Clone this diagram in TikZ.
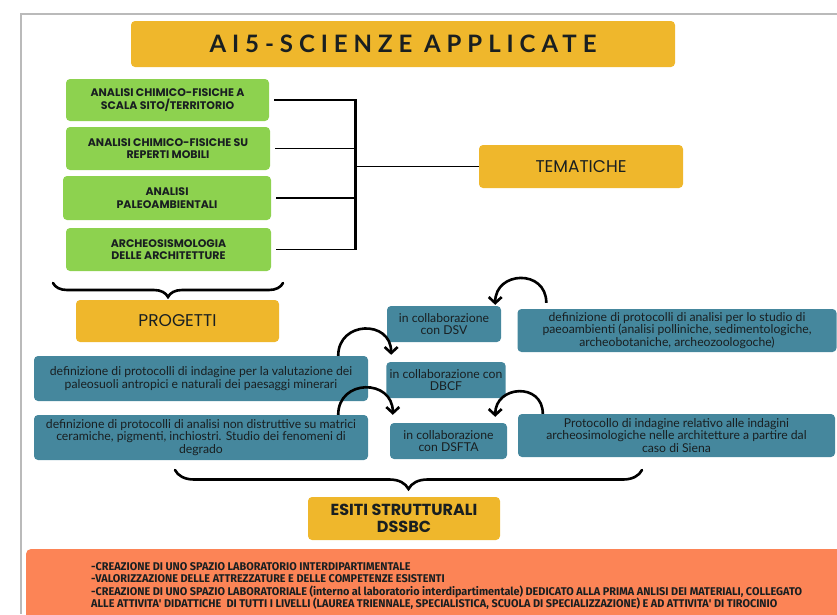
\documentclass[tikz,border=0pt]{standalone}
\usepackage{fontspec}
\usepackage{xcolor}
\usetikzlibrary{arrows.meta,decorations.pathreplacing}
\setmainfont{Lato}
\newfontfamily\capsfont{Poppins}
\newfontfamily\titlefont[LetterSpace=24.7]{Lato}
\newfontfamily\narrowfont[FakeStretch=0.97]{Fira Sans}
\definecolor{mustard}{rgb}{0.937, 0.718, 0.173}
\definecolor{leaf green}{rgb}{0.553, 0.824, 0.310}
\definecolor{petrol}{rgb}{0.271, 0.529, 0.616}
\definecolor{salmon}{rgb}{0.988, 0.518, 0.337}
\definecolor{frame gray}{rgb}{0.73, 0.73, 0.73}
\definecolor{ink}{rgb}{0.1, 0.12, 0.13}

\begin{document}
\begin{tikzpicture}[x=1pt, y=-1pt,
		yellowbox/.style={fill=mustard, rounded corners=4pt, align=center, text=ink,
			font=\capsfont\fontsize{17}{19}\selectfont},
		greenbox/.style={fill=leaf green, rounded corners=4pt, align=center, text=ink,
			font=\capsfont\bfseries\fontsize{11}{12.7}\selectfont},
		bluebox/.style={fill=petrol, rounded corners=4pt, align=center, text=ink,
			font=\fontsize{12.2}{12.5}\selectfont},
		joint/.style={line width=1.5pt},
		bend arrow/.style={line width=2.6pt, looseness=1.7,
			-{Straight Barb[length=6pt, width=13pt, line width=2.6pt]}},
		curly/.style={line width=2.6pt, line cap=round, decorate,
			decoration={brace, mirror, amplitude=#1}}]
		\useasboundingbox (0, 0) rectangle (837, 614);
		% outline
		\draw[frame gray, line width=1.3pt] (21, 614) |- (837, 14);
		% title
		\node (title) [yellowbox, minimum width=544, minimum height=46,
			font=\titlefont\bfseries\fontsize{24}{28}\selectfont] at (403, 44) {AI5-SCIENZE APPLICATE};
		% tematiche
		\node (sito) [greenbox, minimum width=203, minimum height=42] at (167.5, 100)
			{ANALISI CHIMICO-FISICHE A\\SCALA SITO/TERRITORIO};
		\node (reperti) [greenbox, minimum width=204, minimum height=43] at (168, 148.5)
			{ANALISI CHIMICO-FISICHE SU\\REPERTI MOBILI};
		\node (paleo) [greenbox, minimum width=208, minimum height=44] at (167, 198)
			{ANALISI\\PALEOAMBIENTALI};
		\node (sismo) [greenbox, minimum width=205, minimum height=43] at (168.5, 249.5)
			{ARCHEOSISMOLOGIA\\DELLE ARCHITETTURE};
		\node (tematiche) [yellowbox, minimum width=204, minimum height=43] at (581, 166.5) {TEMATICHE};
		\coordinate (spine) at (355, 0);
		\foreach \g in {sito, reperti, paleo, sismo}
			\draw[joint] ([xshift=5pt]\g.east) -- (\g.east -| spine);
		\draw[line width=3pt] ([yshift=0.75pt]sito.east -| spine) -- ([yshift=-0.75pt]sismo.east -| spine);
		\draw[joint] (spine |- tematiche.west) -- (tematiche.west);
		% progetti
		\draw[curly=14pt] (53, 283) -- (283, 283);
		\node (progetti) [yellowbox, minimum width=203, minimum height=42] at (177.5, 321) {PROGETTI};
		\node (dsv) [bluebox, minimum width=114, minimum height=36] at (444, 324)
			{in collaborazione\\con DSV};
		\node (studio) [bluebox, minimum width=319, minimum height=43] at (677, 330.5)
			{definizione di protocolli di analisi per lo studio di\\paeoambienti (analisi polliniche, sedimentologiche,\\archeobotaniche, archeozoologoche)};
		\node (dbcf) [bluebox, minimum width=116, minimum height=36] at (446, 380)
			{in collaborazione con\\DBCF};
		\node (paleosuoli) [bluebox, minimum width=334, minimum height=45] at (201, 378.5)
			{definizione di protocolli di indagine per la valutazione dei\\paleosuoli antropici e naturali dei paesaggi minerari};
		\node (ceramiche) [bluebox, minimum width=334, minimum height=45] at (201, 437.5)
			{definizione di protocolli di analisi non distruttive su matrici\\ceramiche, pigmenti, inchiostri. Studio dei fenomeni di\\degrado};
		\node (dsfta) [bluebox, minimum width=117, minimum height=36] at (448.5, 441)
			{in collaborazione\\con DSFTA};
		\node (siena) [bluebox, minimum width=317, minimum height=43] at (676.5, 435.5)
			{Protocollo di indagine relativo alle indagini\\archeosimologiche nelle architetture a partire dal\\caso di Siena};
		% arrows
		\draw[bend arrow] ([xshift=29pt, yshift=6pt]studio.north west) to[out=90, in=90] ([xshift=-6pt, yshift=1pt]dsv.north east);
		\draw[bend arrow] ([xshift=-30pt]paleosuoli.north east) to[out=90, in=90] ([xshift=5pt, yshift=7pt]dbcf.north west);
		\draw[bend arrow] ([xshift=-30pt]ceramiche.north east) to[out=90, in=90] ([xshift=3pt, yshift=8pt]dsfta.north west);
		\draw[bend arrow] ([xshift=25pt]siena.north west) to[out=90, in=90] ([xshift=-12pt, yshift=6pt]dsfta.north east);
		% esiti
		\draw[curly=19pt] (175, 470) -- (642, 470);
		\node (esiti) [yellowbox, minimum width=192, minimum height=43,
			font=\capsfont\bfseries\fontsize{16}{17}\selectfont] at (404, 518.5)
			{ESITI STRUTTURALI\\DSSBC};
		\fill[salmon, rounded corners=5pt] (26, 549) rectangle (860, 640);
		\node (esiti list) [anchor=north west, align=left, inner sep=0, text=ink,
			font=\narrowfont\bfseries\fontsize{11.2}{12.6}\selectfont] at (91, 562)
			{-CREAZIONE DI UNO SPAZIO LABORATORIO INTERDIPARTIMENTALE\\
			-VALORIZZAZIONE DELLE ATTREZZATURE E DELLE COMPETENZE ESISTENTI\\
			-CREAZIONE DI UNO SPAZIO LABORATORIALE (interno al laboratorio interdipartimentale) DEDICATO ALLA PRIMA ANLISI DEI MATERIALI, COLLEGATO\\
			ALLE ATTIVITA\textquotesingle{} DIDATTICHE~ DI TUTTI I LIVELLI (LAUREA TRIENNALE, SPECIALISTICA, SCUOLA DI SPECIALIZZAZIONE) E AD ATTIVITA\textquotesingle{} DI TIROCINIO};
	\end{tikzpicture}
\end{document}
